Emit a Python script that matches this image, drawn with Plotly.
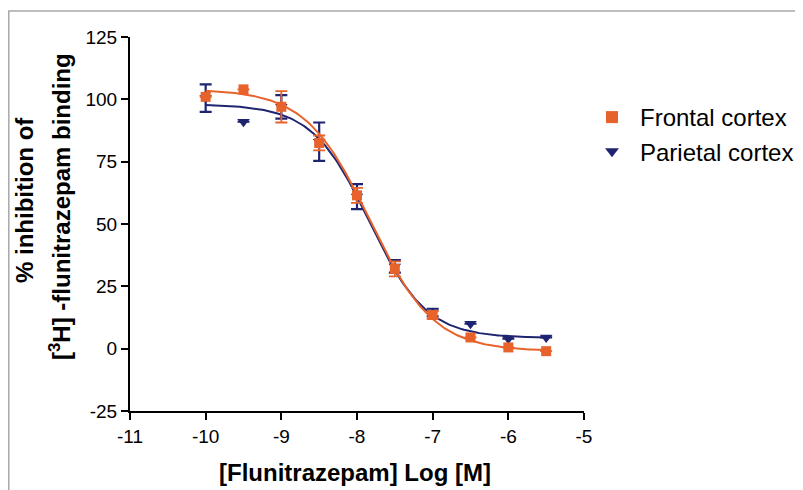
import numpy as np
import plotly.graph_objects as go

# ---- data ----
log_conc = [-10, -9.5, -9, -8.5, -8, -7.5, -7, -6.5, -6, -5.5]
frontal_y = [101, 104, 97, 82.5, 61.5, 32, 13.5, 4.5, 0.5, -1]
frontal_err = [0, 0, 6.3, 3, 3, 3, 1.5, 0, 0, 0]
parietal_y = [100.5, 91, 97, 83, 61, 33, 14.5, 10, 4, 4.5]
parietal_err = [5.5, 0, 4.7, 7.7, 5, 2.5, 1.5, 0, 0, 0]

# fitted sigmoidal (4-parameter logistic) curve parameters
frontal_fit = dict(top=104, bottom=-1, logec50=-7.83, hill=1.03)
parietal_fit = dict(top=98, bottom=4.3, logec50=-7.84, hill=1.15)

x_ticks = [-11, -10, -9, -8, -7, -6, -5]
y_ticks = [-25, 0, 25, 50, 75, 100, 125]

ORANGE = "#E8632B"
NAVY = "#1F2470"
FONT = "Arial, Liberation Sans, sans-serif"


def logistic(x, p):
    return p["bottom"] + (p["top"] - p["bottom"]) / (1 + 10 ** ((x - p["logec50"]) * p["hill"]))


xs = np.linspace(min(log_conc), max(log_conc), 200)

fig = go.Figure()

# parietal (drawn first, under the frontal markers)
fig.add_trace(go.Scatter(x=xs, y=logistic(xs, parietal_fit), mode="lines",
                         line=dict(color=NAVY, width=2), showlegend=False, hoverinfo="skip"))
fig.add_trace(go.Scatter(x=log_conc, y=parietal_y, mode="markers", name="Parietal cortex",
                         marker=dict(symbol="triangle-down", size=11, color=NAVY),
                         error_y=dict(type="data", array=parietal_err, visible=True,
                                      color=NAVY, thickness=2.2, width=6)))
# frontal
fig.add_trace(go.Scatter(x=xs, y=logistic(xs, frontal_fit), mode="lines",
                         line=dict(color=ORANGE, width=2), showlegend=False, hoverinfo="skip"))
fig.add_trace(go.Scatter(x=log_conc, y=frontal_y, mode="markers", name="Frontal cortex",
                         marker=dict(symbol="square", size=10, color=ORANGE),
                         error_y=dict(type="data", array=frontal_err, visible=True,
                                      color=ORANGE, thickness=1.8, width=6)))

# page body has an 8px margin: figure is drawn at screen offset (8, 8)
OFF = 8
W, H = 803 - OFF, 490 - OFF
L, T = 130 - OFF, 37 - OFF
pw, ph = 454, 374
R, B = W - L - pw, H - T - ph


def px_x(p):  # screen pixel -> paper x
    return (p - OFF - L) / pw


def px_y(p):  # screen pixel -> paper y
    return (T + ph - (p - OFF)) / ph


fig.update_layout(
    width=W, height=H,
    margin=dict(l=L, r=R, t=T, b=B, autoexpand=False),
    paper_bgcolor="white", plot_bgcolor="white",
    font=dict(family=FONT, color="black"),
    legend=dict(x=px_x(584), y=px_y(95), xanchor="left", yanchor="top",
                font=dict(size=24, family=FONT), traceorder="reversed",
                itemwidth=46, itemsizing="constant", bgcolor="rgba(0,0,0,0)"),
    xaxis=dict(range=[-11, -5], tickvals=x_ticks, ticktext=[str(v) for v in x_ticks],
               showgrid=False, zeroline=False, showline=True, linecolor="black", linewidth=2,
               ticks="outside", ticklen=7, tickwidth=2, tickcolor="black",
               tickfont=dict(size=19, family=FONT), automargin=False),
    yaxis=dict(range=[-25, 125], tickvals=y_ticks, ticktext=[str(v) for v in y_ticks],
               showgrid=False, zeroline=False, showline=True, linecolor="black", linewidth=2,
               ticks="outside", ticklen=7, tickwidth=2, tickcolor="black",
               tickfont=dict(size=19, family=FONT), automargin=False),
    annotations=[
        dict(text="<b>[Flunitrazepam] Log [M]</b>", xref="paper", yref="paper",
             x=px_x(355), y=px_y(472), xanchor="center", yanchor="middle",
             showarrow=False, font=dict(size=24, family=FONT)),
        dict(text="<b>% inhibition of</b>", xref="paper", yref="paper",
             x=px_x(24), y=px_y(200), xanchor="center", yanchor="middle", textangle=-90,
             showarrow=False, font=dict(size=24, family=FONT)),
        dict(text="<b>[<sup>3</sup>H] -flunitrazepam binding</b>", xref="paper", yref="paper",
             x=px_x(60), y=px_y(207), xanchor="center", yanchor="middle", textangle=-90,
             showarrow=False, font=dict(size=24, family=FONT)),
    ],
    shapes=[
        dict(type="line", xref="paper", yref="paper", x0=px_x(8), x1=px_x(803),
             y0=px_y(11), y1=px_y(11), line=dict(color="#A8A8A8", width=1.5)),
        dict(type="line", xref="paper", yref="paper", x0=px_x(8.8), x1=px_x(8.8),
             y0=px_y(11), y1=px_y(490), line=dict(color="#A8A8A8", width=1.5)),
    ],
)

fig.write_html("out.html")
